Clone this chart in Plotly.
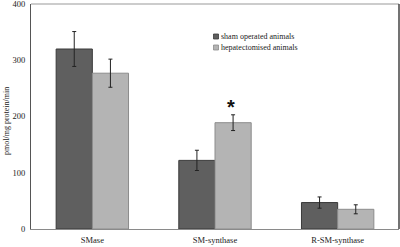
import plotly.graph_objects as go

categories = ["SMase", "SM-synthase", "R-SM-synthase"]
sham_values = [320, 122, 47]
sham_err = [31, 18, 10]
hepa_values = [277, 189, 35]
hepa_err = [25, 14, 8]
y_ticks = [0, 100, 200, 300, 400]
series_names = ["sham operated animals", "hepatectomised animals"]
series_colors = ["#5f5f5f", "#b4b4b4"]
series_edges = ["#3a3a3a", "#8c8c8c"]

font = "Liberation Serif, Times New Roman, serif"

W, H = 400, 247
L, R, T, B = 31, 1, 4, 18
pw, ph = W - L - R, H - T - B


def px(x):
    return (x - L) / pw


def py(y):
    return (H - B - y) / ph


fig = go.Figure()
for vals, errs, name, col, edge in zip([sham_values, hepa_values], [sham_err, hepa_err],
                                       series_names, series_colors, series_edges):
    fig.add_trace(go.Bar(
        x=categories, y=vals, name=name, showlegend=False,
        marker=dict(color=col, line=dict(color=edge, width=1)),
        error_y=dict(type="data", array=errs, color="#222222", thickness=1, width=2),
    ))

fig.add_annotation(x="SM-synthase", y=hepa_values[1] + hepa_err[1] + 6,
                   xshift=16, yshift=-9, text="<b>*</b>", showarrow=False,
                   font=dict(size=20, color="#111111", family="Arial"), yanchor="bottom")

shapes = [
    dict(type="line", xref="paper", yref="paper", x0=0, x1=1, y0=1, y1=1,
         line=dict(color="#cccccc", width=2)),
    dict(type="line", xref="paper", yref="paper", x0=1, x1=1, y0=0, y1=1,
         line=dict(color="#444444", width=1.5)),
]
# manual legend
for i, (name, col, edge) in enumerate(zip(series_names, series_colors, series_edges)):
    yc = 36.5 + 11 * i
    shapes.append(dict(type="rect", xref="paper", yref="paper",
                       x0=px(213.5), x1=px(218.5), y0=py(yc - 2.5), y1=py(yc + 2.5),
                       fillcolor=col, line=dict(color=edge, width=0.8)))
    fig.add_annotation(xref="paper", yref="paper", x=px(219), y=py(yc), text=name,
                       showarrow=False, xanchor="left", yanchor="middle",
                       font=dict(family=font, size=8, color="#222222"))

fig.add_annotation(xref="paper", yref="paper", x=px(6), y=py(121), text="pmol/mg protein/min",
                   textangle=-90, showarrow=False, xanchor="center", yanchor="middle",
                   font=dict(family=font, size=8, color="#222222"))

fig.update_layout(
    width=W, height=H,
    margin=dict(l=L, r=R, t=T, b=B, autoexpand=False),
    paper_bgcolor="white", plot_bgcolor="white",
    barmode="group", bargap=0.41, bargroupgap=0,
    font=dict(family=font, size=8.5, color="#222222"),
    showlegend=False,
    xaxis=dict(showline=True, linecolor="#8a8a8a", linewidth=1, ticks="", automargin=False,
               tickfont=dict(family=font, size=8.5), showgrid=False, ticklabelstandoff=3),
    yaxis=dict(range=[0, 400], tickvals=y_ticks, showline=True, linecolor="#555555",
               linewidth=1, ticks="", showgrid=False, zeroline=False, automargin=False,
               tickfont=dict(family=font, size=8.5), ticklabelstandoff=3,
               ticklabeloverflow="allow"),
    shapes=shapes,
)

fig.write_html("out.html", config={"displayModeBar": False},
               post_script="document.body.style.margin='0px';document.body.style.padding='0px';")
